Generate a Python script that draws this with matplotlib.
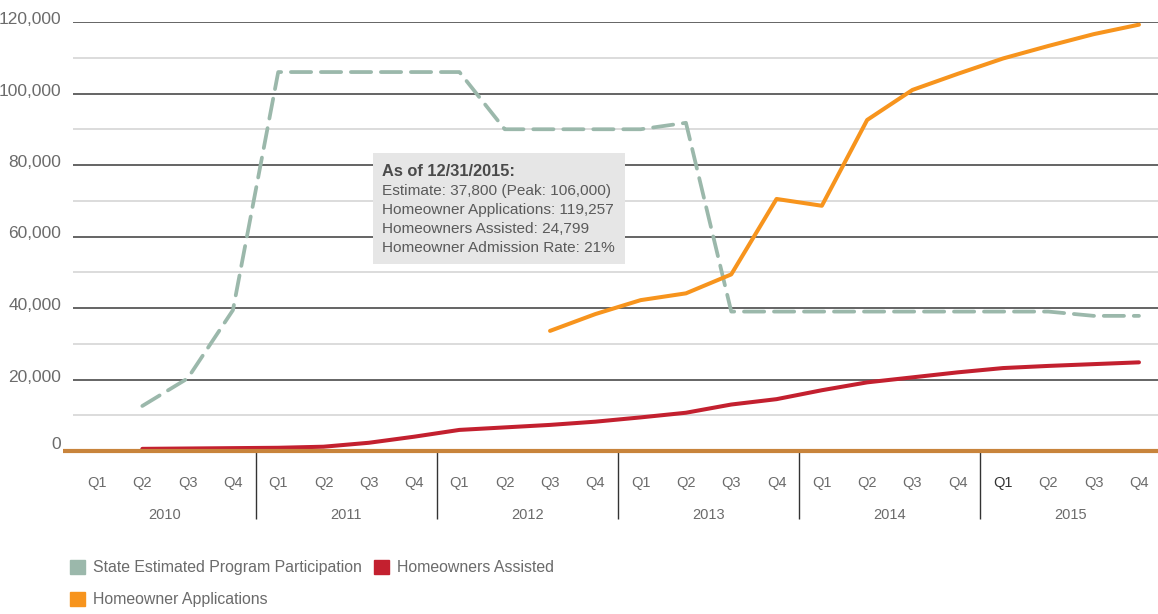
import matplotlib
matplotlib.use("Agg")
import matplotlib.pyplot as plt
from matplotlib.patches import Patch, Rectangle
from matplotlib.transforms import ScaledTranslation
import numpy as np

plt.rcParams['font.family'] = ['Liberation Sans', 'DejaVu Sans']

years = [2010, 2011, 2012, 2013, 2014, 2015]
quarters = ['Q1', 'Q2', 'Q3', 'Q4']

# quarterly series, Q1 2010 .. Q4 2015 (None = not reported yet)
estimate = [None, 12600, 20300, 39400,
            106000, 106000, 106000, 106000,
            106000, 90000, 90000, 90000,
            90000, 91800, 39000, 39000,
            39000, 39000, 39000, 39000,
            39000, 39000, 37800, 37800]
applications = [None, None, None, None,
                None, None, None, None,
                None, None, 33600, 38300,
                42200, 44100, 49400, 70500,
                68600, 92600, 101000, 105500,
                109800, 113300, 116600, 119257]
assisted = [None, 600, 700, 800,
            900, 1200, 2300, 4000,
            5900, 6600, 7300, 8200,
            9400, 10700, 13000, 14500,
            17000, 19200, 20600, 22000,
            23200, 23800, 24300, 24799]

GREEN = '#9bb8ab'
RED = '#c3202f'
ORANGE = '#f7941d'
BASE = '#c8843c'
TEXT = '#6b6b6b'

W, H = 1158, 614
fig = plt.figure(figsize=(W / 100, H / 100), dpi=100)
ax = fig.add_axes([73 / W, 1 - 451 / H, 1 - 73 / W, (451 - 22) / H])

x = np.arange(len(years) * len(quarters))


def series(vals):
    return np.array([np.nan if v is None else v for v in vals], dtype=float)


ax.plot(x, series(estimate), color=GREEN, lw=2.7, dashes=(5.4, 2.6),
        dash_capstyle='round', zorder=3, clip_on=False)
ax.plot(x, series(applications), color=ORANGE, lw=2.9, zorder=4,
        solid_capstyle='round', clip_on=False)
ax.plot(x, series(assisted), color=RED, lw=2.9, zorder=4,
        solid_capstyle='round', clip_on=False)

ax.set_xlim(-0.53, 23.42)
ax.set_ylim(0, 120000)
for s in ax.spines.values():
    s.set_visible(False)

# gridlines: dark every 20k, light in between
ax.set_yticks(np.arange(0, 120001, 20000))
ax.set_yticks(np.arange(10000, 120000, 20000), minor=True)
ax.grid(which='major', axis='y', color='#3a3a3a', lw=1.1, zorder=1)
ax.grid(which='minor', axis='y', color='#dcdcdc', lw=1.4, zorder=1)
ax.set_yticklabels([f'{v:,}' for v in range(0, 120001, 20000)])
ax.tick_params(axis='y', which='both', length=0, pad=8.6, labelsize=12.5,
               labelcolor=TEXT)
for k, lab in enumerate(ax.get_yticklabels()):
    up = 8 if k == 0 else 4
    lab.set_transform(lab.get_transform() + ScaledTranslation(0, up / 100, fig.dpi_scale_trans))

# thick baseline, runs a bit past the gridlines on the left
ax.plot([-0.75, 23.42], [0, 0], color=BASE, lw=3, zorder=5, clip_on=False,
        solid_capstyle='butt')

# quarter labels, year labels and year separators
ax.set_xticks(x)
ax.set_xticklabels(quarters * len(years))
ax.tick_params(axis='x', length=0, pad=18, labelsize=10.5, labelcolor=TEXT)
ax.get_xticklabels()[20].set_color('#333333')
xt = ax.get_xaxis_transform()
for i, yr in enumerate(years):
    ax.annotate(str(yr), xy=(i * 4 + 1.5, 0), xycoords=xt,
                xytext=(0, -64), textcoords='offset pixels',
                ha='center', va='center', fontsize=10.5, color=TEXT)
ax.vlines(np.arange(3.5, 23, 4), 0, -68 / 429, transform=xt, color='#333333',
          lw=1, clip_on=False)


# summary box
def fx(px):
    return px / W


def fy(py):
    return 1 - py / H


fig.patches.append(Rectangle((fx(373), fy(264)), fx(625) - fx(373), fy(153) - fy(264),
                             transform=fig.transFigure, facecolor='#e6e6e6',
                             edgecolor='none', zorder=6))
rate = assisted[-1] / applications[-1]
lines = [f'Estimate: {estimate[-1]:,} (Peak: {max(v for v in estimate if v):,})',
         f'Homeowner Applications: {applications[-1]:,}',
         f'Homeowners Assisted: {assisted[-1]:,}',
         f'Homeowner Admission Rate: {rate:.0%}']
fig.text(fx(382), fy(171.5), 'As of 12/31/2015:', fontsize=11.8, fontweight='bold',
         color='#4a4a4a', va='center', zorder=7)
for k, line in enumerate(lines):
    fig.text(fx(382), fy(190.5 + k * 19.2), line, fontsize=11.1, color='#5a5a5a',
             va='center', zorder=7)

handles = [Patch(color=GREEN, label='State Estimated Program Participation'),
           Patch(color=ORANGE, label='Homeowner Applications'),
           Patch(color=RED, label='Homeowners Assisted')]
leg = fig.legend(handles=handles, loc='upper left', bbox_to_anchor=(fx(70), fy(560)),
                 ncol=2, frameon=False, fontsize=11.4, handlelength=0.95,
                 handleheight=0.95, handletextpad=0.5, columnspacing=0.75,
                 labelspacing=1.05, borderaxespad=0, borderpad=0)
for t in leg.get_texts():
    t.set_color(TEXT)

fig.savefig('out.png', dpi=100)
